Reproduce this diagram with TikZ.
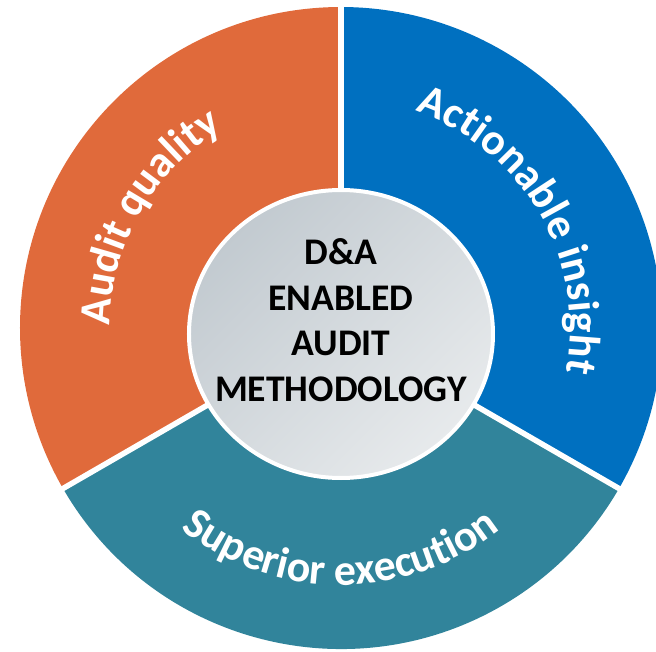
\documentclass[tikz,border=0pt]{standalone}
\usepackage{fontspec}
\setmainfont{Carlito}
\usepackage{tikz}
\usetikzlibrary{shapes.geometric, decorations.text}

\definecolor{auditorange}{HTML}{E06A3B}
\definecolor{insightblue}{HTML}{0070C0}
\definecolor{execteal}{HTML}{31849B}
\definecolor{hubgray}{HTML}{C2CAD0}
\definecolor{hubpale}{HTML}{E7EAEC}

\newcommand{\ringfont}{\fontsize{25}{30}\selectfont\bfseries}

\begin{document}
\begin{tikzpicture}[
  gap/.style={draw=white, line width=0.11cm},
  hub/.style={ellipse, minimum width=6.08cm, minimum height=5.76cm, inner sep=0pt,
    draw=white, line width=0.08cm, top color=hubgray, bottom color=hubpale, shading angle=45},
  hubtext/.style={align=center, font=\fontsize{21.4}{26}\selectfont\bfseries, inner sep=0pt},
  ringlabel/.style={decorate, decoration={text along path, text color=white, text align=center}}
]

\useasboundingbox (-6.82,-6.48) rectangle (6.30,6.56);
\clip (-6.82,-6.48) rectangle (6.30,6.56);

% Ring segments
\fill[auditorange] (0,0) -- (90:6.42) arc[start angle=90, end angle=210, radius=6.42] -- cycle;
\fill[execteal] (0,0) -- (210:6.42) arc[start angle=210, end angle=330, radius=6.42] -- cycle;
\fill[insightblue] (0,0) -- (330:6.42) arc[start angle=-30, end angle=90, radius=6.42] -- cycle;

% White gaps
\draw[gap] (0,0) -- (90:6.6);
\draw[gap] (0,0) -- (210:6.6);
\draw[gap] (0,0) -- (330:6.6);

% Centre
\node[hub] (hub) at (0,-0.12) {};
\node[hubtext] (title) at (0,0.16) {D\&A\\ENABLED\\AUDIT\\METHODOLOGY};

% Labels on the ring
\path[ringlabel, decoration={text={|\ringfont|Audit quality}}]
  (210:4.62) arc[start angle=210, end angle=90, radius=4.62];
\path[ringlabel, decoration={text={|\ringfont|Actionable insight}}]
  (90:4.58) arc[start angle=90, end angle=-30, radius=4.58];
\path[ringlabel, decoration={text={|\ringfont|Superior execution}}]
  (210:5.14) arc[start angle=210, end angle=330, radius=5.14];

\end{tikzpicture}
\end{document}
